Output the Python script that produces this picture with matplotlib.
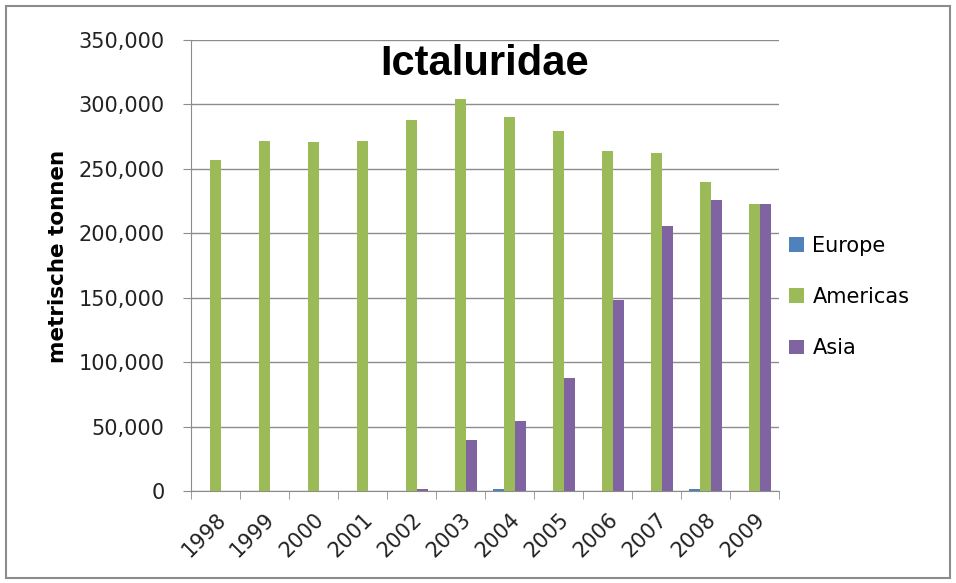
import numpy as np
import matplotlib
matplotlib.use('Agg')
import matplotlib.pyplot as plt
from matplotlib.patches import Rectangle
from matplotlib.ticker import FuncFormatter

# data (metric tonnes)
years = ['1998', '1999', '2000', '2001', '2002', '2003',
         '2004', '2005', '2006', '2007', '2008', '2009']
europe = [0, 0, 0, 0, 0, 0, 1500, 0, 0, 0, 1500, 0]
americas = [257000, 272000, 271000, 272000, 288000, 304000,
            290000, 279000, 264000, 262000, 240000, 223000]
asia = [0, 0, 0, 0, 1500, 39500, 54500, 87500, 148000, 205500, 225500, 223000]
series_names = ['Europe', 'Americas', 'Asia']
colors = ['#4F81BD', '#9BBB59', '#8064A2']

plt.rcParams['font.family'] = ['DejaVu Sans']

fig = plt.figure(figsize=(9.56, 5.83), dpi=100)
ax = fig.add_axes([0.1998, 0.1578, 0.615, 0.7736])

x = np.arange(len(years))
w = 1 / 4.5
for k, (vals, name, col) in enumerate(zip([europe, americas, asia], series_names, colors)):
    ax.bar(x + (k - 1) * w, vals, w, color=col, label=name, zorder=3)

ax.set_xlim(-0.5, len(years) - 0.5)
ax.set_ylim(0, 350000)
ax.set_yticks(np.arange(0, 350001, 50000))
ax.yaxis.set_major_formatter(FuncFormatter(lambda v, p: '{:,.0f}'.format(v)))
ax.grid(axis='y', color='#8C8C8C', lw=1, zorder=0)

ax.set_xticks(x)
ax.set_xticklabels(years, rotation=45, ha='right', rotation_mode='anchor')
ax.set_xticks(np.arange(-0.5, len(years)), minor=True)
ax.tick_params(axis='x', which='major', length=0, labelsize=15, pad=13)
ax.tick_params(axis='x', which='minor', length=6, color='#8C8C8C')
ax.tick_params(axis='y', length=6, color='#8C8C8C', labelsize=15, pad=13, labelcolor='#222222')
ax.tick_params(axis='x', labelcolor='#222222')

for s in ['top', 'right']:
    ax.spines[s].set_visible(False)
for s in ['left', 'bottom']:
    ax.spines[s].set_color('#8C8C8C')

ax.set_ylabel('metrische tonnen', fontsize=15.5, fontweight='bold', va='center')
ax.yaxis.set_label_coords(-0.226, 0.519)

ax.text(0.5, 0.922, 'Ictaluridae', transform=ax.transAxes, ha='center', va='baseline',
        fontsize=30, fontweight='bold', family='Liberation Sans', zorder=5)

leg = ax.legend(loc='center left', bbox_to_anchor=(0.986, 0.43), frameon=False,
                fontsize=15, handlelength=0.7, handleheight=0.7, labelspacing=1.5,
                handletextpad=0.4)

fig.patches.append(Rectangle((0.006, 0.008), 0.988, 0.982, transform=fig.transFigure,
                             fill=False, edgecolor='#8C8C8C', lw=1.5))

fig.savefig('out.png', dpi=100)
